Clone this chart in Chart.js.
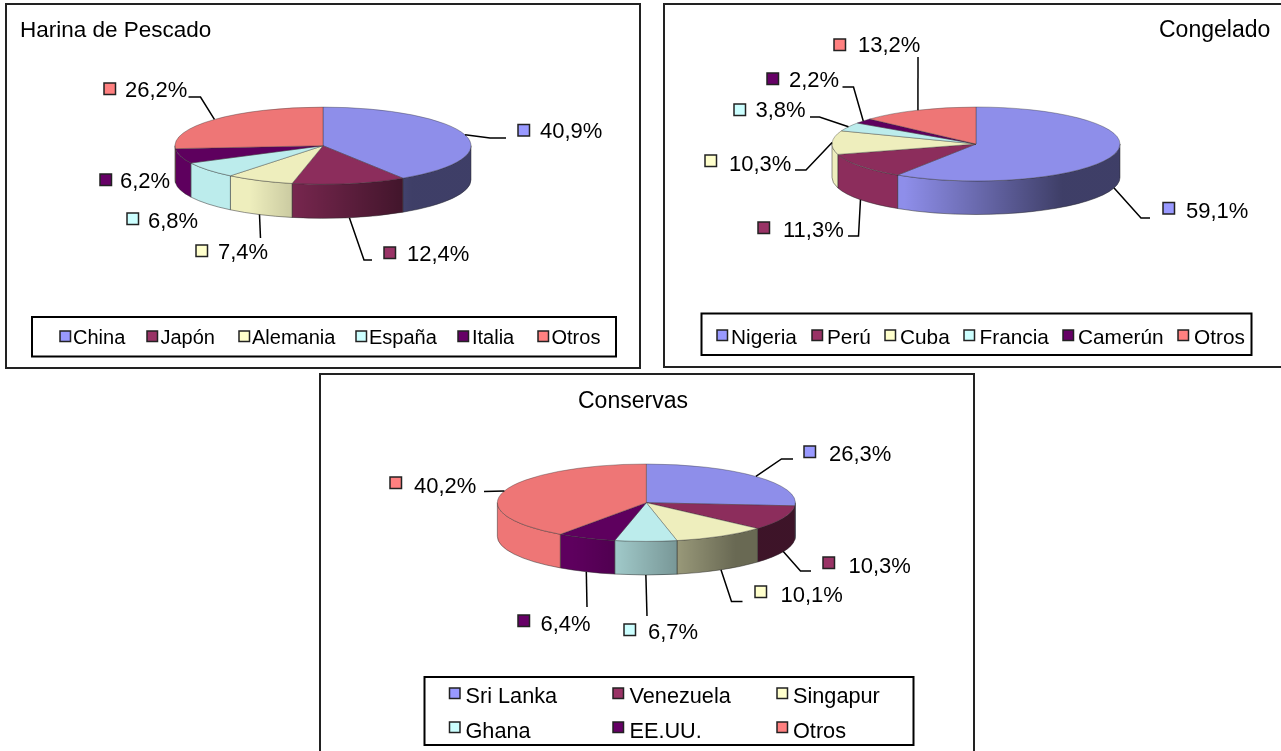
<!DOCTYPE html>
<html>
<head>
<meta charset="utf-8">
<script src="https://cdn.jsdelivr.net/npm/chart.js@4/dist/chart.umd.min.js"></script>
<style>
  html, body { margin: 0; padding: 0; background: #fff; overflow: hidden; }
  .panel { position: absolute; box-sizing: border-box; border: 2px solid #222; background: #fff; overflow: hidden; }
  .panel canvas { position: absolute; left: -1px; top: -1px; filter: blur(0.35px); }
</style>
</head>
<body>
<div class="panel" id="p1" style="left:5px;top:3px;width:636px;height:366px"><canvas id="c1"></canvas></div>
<div class="panel" id="p2" style="left:663px;top:3px;width:620px;height:365px"><canvas id="c2"></canvas></div>
<div class="panel" id="p3" style="left:319px;top:373px;width:656px;height:380px"><canvas id="c3"></canvas></div>
<script>
const harinaLabels = ['China', 'Japón', 'Alemania', 'España', 'Italia', 'Otros'];
const harinaValues = [40.9, 12.4, 7.4, 6.8, 6.2, 26.2];

const congeladoLabels = ['Nigeria', 'Perú', 'Cuba', 'Francia', 'Camerún', 'Otros'];
const congeladoValues = [59.1, 11.3, 10.3, 3.8, 2.2, 13.2];

const conservasLabels = ['Sri Lanka', 'Venezuela', 'Singapur', 'Ghana', 'EE.UU.', 'Otros'];
const conservasValues = [26.3, 10.3, 10.1, 6.7, 6.4, 40.2];

const keyColors = ['#9999ff', '#993366', '#ffffcc', '#ccffff', '#660066', '#ff8080'];
const topColors = ['#8e8eea', '#8c2d5c', '#eeeebd', '#bcecec', '#5e005e', '#ee7676'];

const FONT_FAMILY = '"Liberation Sans", Arial, sans-serif';

// page coordinates, the plugin moves them into each panel
const layouts = {
  c1: {
    box: [6, 4, 634, 364], cx: 323, cy: 145.7, rx: 148, ry: 38.6, depth: 34,
    title: { text: 'Harina de Pescado', x: 20, y: 37, size: 22.5 },
    labels: [
      { key: [518, 124.5], text: [540, 138], line: [[490, 138], [506, 138]] },
      { key: [384, 247], text: [407, 261], line: [[364, 260], [372, 260]] },
      { key: [196, 245], text: [218, 259], line: [[260.5, 238]] },
      { key: [127, 213], text: [148, 228], line: null },
      { key: [100, 174], text: [120, 188], line: null },
      { key: [104, 83], text: [125, 97], line: [[200.5, 97], [188.5, 97]] },
    ],
    legend: {
      frame: [32, 317, 584, 39.5], size: 20,
      rows: [
        { y: 343.5, boxY: 331, items: [[60, 73], [147, 160.5], [239, 252], [356, 369], [458, 472], [538, 551.5]] },
      ],
    },
  },
  c2: {
    box: [664, 4, 617, 363], cx: 976, cy: 144, rx: 144, ry: 37, depth: 33.5,
    title: { text: 'Congelado', x: 1159, y: 37, size: 23 },
    labels: [
      { key: [1163, 202.5], text: [1186, 218], line: [[1141, 218], [1150, 218]] },
      { key: [758, 222], text: [783, 237], line: [[858.5, 236], [848, 236]] },
      { key: [705, 155], text: [729, 171], line: [[806, 170], [795, 170]] },
      { key: [734, 104], text: [755.5, 117], line: [[819.5, 117], [810, 117]] },
      { key: [767, 73], text: [789, 87], line: [[853.5, 87], [842.5, 87]] },
      { key: [834, 39], text: [858, 52], line: [[918, 57]] },
    ],
    legend: {
      frame: [701.5, 313.5, 550, 41.5], size: 20.8,
      rows: [
        { y: 343.5, boxY: 330, items: [[717, 731], [812, 827], [885, 900], [964, 979.5], [1063, 1078], [1178, 1194]] },
      ],
    },
  },
  c3: {
    box: [320, 374, 654.5, 377], cx: 646.6, cy: 502.7, rx: 149, ry: 38.7, depth: 33.6,
    title: { text: 'Conservas', x: 578, y: 407.5, size: 23 },
    labels: [
      { key: [804, 446], text: [829, 461], line: [[781.5, 459], [793, 459]] },
      { key: [823, 557], text: [848.5, 573], line: [[800.5, 571], [811, 571]] },
      { key: [755, 586], text: [780.5, 602], line: [[731.5, 601.5], [742.5, 601.5]] },
      { key: [624, 624], text: [648, 639], line: [[647, 616]] },
      { key: [518, 615], text: [540.5, 631], line: [[587, 607]] },
      { key: [390, 477], text: [414, 493], line: [[484, 491.5]] },
    ],
    legend: {
      frame: [424.5, 677, 489, 68], size: 21.7,
      rows: [
        { y: 703, boxY: 688, items: [[449.5, 465.5], [613, 629.5], [777, 793]] },
        { y: 737.5, boxY: 722, items: [[449.5, 465.5], [613, 629.5], [777, 793]] },
      ],
    },
  },
};

const fmtPct = (v) => v.toFixed(1).replace('.', ',') + '%';

const drawKey = (ctx, x, y, size, color) => {
  ctx.fillStyle = color;
  ctx.strokeStyle = '#222';
  ctx.lineWidth = 1.5;
  ctx.fillRect(x, y, size, size);
  ctx.strokeRect(x, y, size, size);
};

// squashes the pie into an ellipse and puts the side wall under it
const pie3d = {
  id: 'pie3d',
  beforeDatasetsDraw(chart) {
    const ctx = chart.ctx;
    const lay = layouts[chart.canvas.id];
    const arcs = chart.getDatasetMeta(0).data;
    const { x: cx, y: cy } = arcs[0];
    const { rx, ry, depth } = lay;

    const wall = (a0, a1) => {
      ctx.beginPath();
      ctx.ellipse(cx, cy + depth, rx, ry, 0, a0, a1);
      ctx.ellipse(cx, cy, rx, ry, 0, a1, a0, true);
      ctx.closePath();
    };

    const shade = ctx.createLinearGradient(cx - rx, 0, cx + rx, 0);
    shade.addColorStop(0, 'rgba(0,0,0,0)');
    shade.addColorStop(0.25, 'rgba(0,0,0,0)');
    shade.addColorStop(0.8, 'rgba(0,0,0,0.56)');
    shade.addColorStop(1, 'rgba(0,0,0,0.56)');

    arcs.forEach((arc, i) => {
      const a0 = Math.max(arc.startAngle, 0);
      const a1 = Math.min(arc.endAngle, Math.PI);
      if (a1 <= a0) return;
      wall(a0, a1);
      ctx.fillStyle = topColors[i];
      ctx.fill();
      ctx.fillStyle = shade;
      ctx.fill();
      ctx.strokeStyle = 'rgba(40,40,40,0.7)';
      ctx.lineWidth = 0.7;
      ctx.stroke();
    });

    ctx.save();
    ctx.translate(cx, cy);
    ctx.scale(1, ry / rx);
    ctx.translate(-cx, -cy);
  },
  afterDatasetsDraw(chart) {
    chart.ctx.restore();
  },
  afterDraw(chart) {
    const ctx = chart.ctx;
    const lay = layouts[chart.canvas.id];
    const arcs = chart.getDatasetMeta(0).data;
    const values = chart.data.datasets[0].data;
    const { rx, ry, depth } = lay;
    const { x: cx, y: cy } = arcs[0];
    const ox = lay.box[0];
    const oy = lay.box[1];

    ctx.save();
    ctx.textBaseline = 'alphabetic';

    ctx.font = lay.title.size + 'px ' + FONT_FAMILY;
    ctx.fillStyle = '#000';
    ctx.fillText(lay.title.text, lay.title.x - ox, lay.title.y - oy);

    ctx.font = '22px ' + FONT_FAMILY;
    lay.labels.forEach((lab, i) => {
      const mid = (arcs[i].startAngle + arcs[i].endAngle) / 2;
      if (lab.line) {
        const front = Math.sin(mid) > 0;
        ctx.beginPath();
        ctx.moveTo(cx + rx * Math.cos(mid), cy + ry * Math.sin(mid) + (front ? depth : 0));
        lab.line.forEach(([x, y]) => ctx.lineTo(x - ox, y - oy));
        ctx.strokeStyle = '#000';
        ctx.lineWidth = 1.5;
        ctx.stroke();
      }
      drawKey(ctx, lab.key[0] - ox, lab.key[1] - oy, 11.5, keyColors[i]);
      ctx.fillStyle = '#000';
      ctx.fillText(fmtPct(values[i]), lab.text[0] - ox, lab.text[1] - oy);
    });

    const f = lay.legend.frame;
    ctx.strokeStyle = '#000';
    ctx.lineWidth = 2;
    ctx.strokeRect(f[0] - ox, f[1] - oy, f[2], f[3]);

    ctx.font = lay.legend.size + 'px ' + FONT_FAMILY;
    let idx = 0;
    lay.legend.rows.forEach((row) => {
      row.items.forEach(([boxX, textX]) => {
        drawKey(ctx, boxX - ox, row.boxY - oy, 10.5, keyColors[idx]);
        ctx.fillStyle = '#000';
        ctx.fillText(chart.data.labels[idx], textX - ox, row.y - oy);
        idx++;
      });
    });
    ctx.restore();
  },
};

const makeChart = (id, labels, values) => {
  const lay = layouts[id];
  const canvas = document.getElementById(id);
  const [bx, by, bw, bh] = lay.box;
  canvas.width = bw;
  canvas.height = bh;
  const lx = lay.cx - bx;
  const ly = lay.cy - by;

  return new Chart(canvas, {
    type: 'pie',
    data: {
      labels,
      datasets: [{
        data: values,
        backgroundColor: topColors,
        borderColor: 'rgba(50,50,50,0.75)',
        borderWidth: 0.8,
        radius: lay.rx,
        clip: false,
      }],
    },
    options: {
      responsive: false,
      animation: false,
      devicePixelRatio: 1,
      layout: {
        padding: {
          left: Math.max(0, 2 * lx - bw),
          right: Math.max(0, bw - 2 * lx),
          top: Math.max(0, 2 * ly - bh),
          bottom: Math.max(0, bh - 2 * ly),
        },
      },
      plugins: {
        legend: { display: false },
        title: { display: false },
        tooltip: { enabled: false },
      },
    },
    plugins: [pie3d],
  });
};

makeChart('c1', harinaLabels, harinaValues);
makeChart('c2', congeladoLabels, congeladoValues);
makeChart('c3', conservasLabels, conservasValues);
</script>
</body>
</html>
